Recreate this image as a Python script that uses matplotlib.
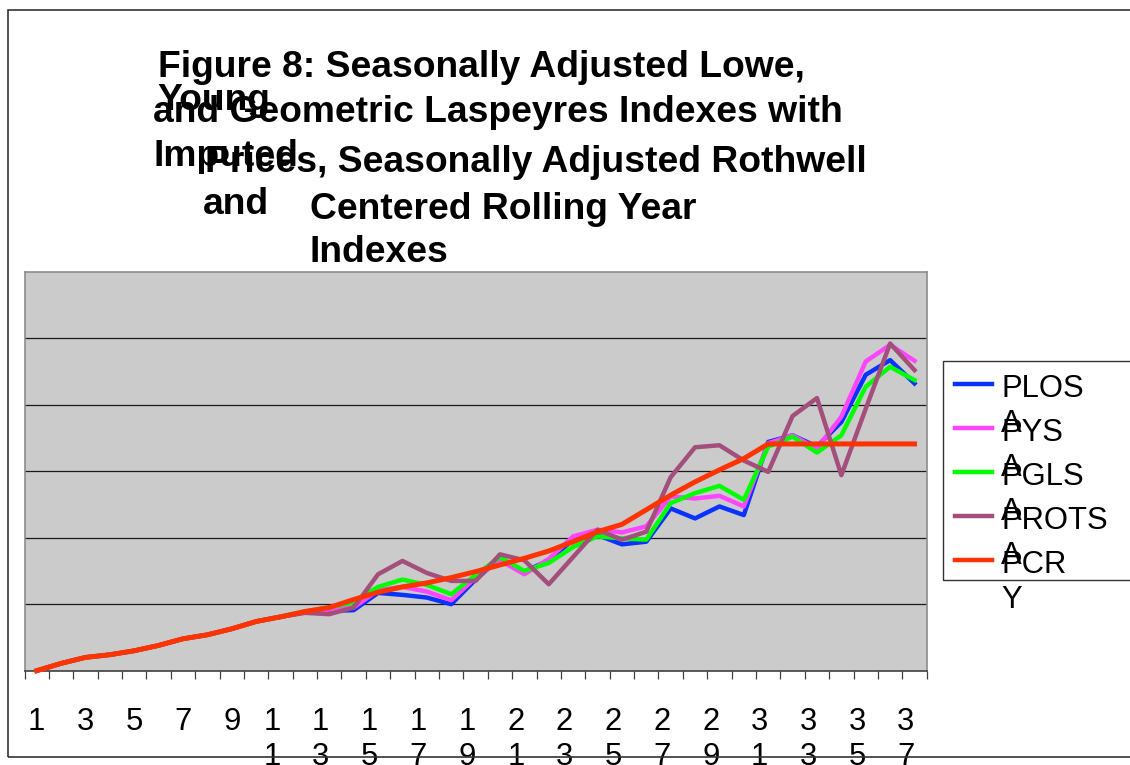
"""Seasonally adjusted Lowe / Young / Geometric Laspeyres vs Rothwell and CRY indexes."""

import matplotlib
matplotlib.use("Agg")
import matplotlib.pyplot as plt
import matplotlib.transforms as mtransforms
import numpy as np
from matplotlib import font_manager
from matplotlib.lines import Line2D
from matplotlib.patches import Rectangle

# ---- data -------------------------------------------------------------
periods = np.arange(1, 38)

common_start = [1.000, 1.011, 1.020, 1.024, 1.030, 1.038, 1.048, 1.054,
                1.063, 1.074, 1.081]

plosa = common_start + [
    1.088, 1.090, 1.091, 1.117, 1.114, 1.110, 1.100, 1.137, 1.169, 1.149,
    1.166, 1.197, 1.204, 1.190, 1.194, 1.244, 1.229, 1.247, 1.234, 1.344,
    1.354, 1.337, 1.374, 1.445, 1.467, 1.432]
pysa = common_start + [
    1.088, 1.092, 1.095, 1.121, 1.126, 1.119, 1.106, 1.140, 1.166, 1.145,
    1.168, 1.202, 1.212, 1.208, 1.217, 1.262, 1.259, 1.263, 1.247, 1.342,
    1.354, 1.334, 1.382, 1.465, 1.490, 1.466]
pglsa = common_start + [
    1.089, 1.095, 1.103, 1.126, 1.137, 1.129, 1.115, 1.144, 1.171, 1.150,
    1.162, 1.186, 1.202, 1.199, 1.197, 1.252, 1.267, 1.278, 1.257, 1.337,
    1.352, 1.328, 1.354, 1.427, 1.457, 1.437]
protsa = common_start + [
    1.087, 1.085, 1.095, 1.145, 1.165, 1.147, 1.135, 1.135, 1.175, 1.166,
    1.130, 1.171, 1.212, 1.197, 1.209, 1.291, 1.336, 1.339, 1.316, 1.299,
    1.383, 1.410, 1.294, 1.394, 1.492, 1.452]
pcry = common_start + [
    1.089, 1.095, 1.107, 1.118, 1.126, 1.132, 1.140, 1.149, 1.159, 1.169,
    1.180, 1.194, 1.209, 1.220, 1.242, 1.264, 1.284, 1.302, 1.319, 1.341,
    1.341, 1.341, 1.341, 1.341, 1.341, 1.341]

series_names = ["PLOSA", "PYSA", "PGLSA", "PROTSA", "PCRY"]
series_values = [plosa, pysa, pglsa, protsa, pcry]
series_colors = ["#0A32FF", "#FF45FF", "#00FF00", "#A34E7B", "#FF3300"]
series_widths = [3.2, 3.2, 3.2, 3.2, 3.6]

title_lines = [
    # (text, left px, baseline px)
    ("Figure 8: Seasonally Adjusted Lowe,", 158, 77),
    ("Young", 157, 110),
    ("and Geometric Laspeyres Indexes with", 153, 122),
    ("Imputed", 153, 166),
    ("Prices, Seasonally Adjusted Rothwell", 205, 172),
    ("and", 203, 214),
    ("Centered Rolling Year", 310, 219),
    ("Indexes", 310, 262),
]

# ---- figure set-up (pixel helpers) -------------------------------------
W, H, DPI = 1130, 765, 100
fig = plt.figure(figsize=(W / DPI, H / DPI), dpi=DPI)
fig.patch.set_facecolor("white")


def fx(px):
    return px / W


def fy(py):
    return 1 - py / H


try:
    font_manager.findfont(
        font_manager.FontProperties(family="Liberation Sans Narrow", weight="bold"),
        fallback_to_default=False)
    title_family, title_size = "Liberation Sans Narrow", 32.8
except ValueError:
    title_family, title_size = "Liberation Sans", 26.8

body_family = "Liberation Sans"
body_size = 22.3

# ---- plot area ---------------------------------------------------------
left, right, top, bottom = 24.5, 926.7, 271.7, 670.7
ax = fig.add_axes([fx(left), fy(bottom), fx(right) - fx(left), fy(top) - fy(bottom)])
ax.set_facecolor("#CBCBCB")
ax.set_xlim(0.5, 37.5)
ax.set_ylim(1.0, 1.6)

ax.set_yticks(np.arange(1.1, 1.55, 0.1))
ax.tick_params(axis="y", length=0, labelleft=False)
ax.yaxis.grid(True, color="#1a1a1a", linewidth=0.9)
ax.set_axisbelow(True)

ax.set_xticks(np.arange(0.5, 38, 1))
ax.tick_params(axis="x", direction="out", length=6, width=0.9,
               color="#404040", labelbottom=False)

for side in ("top", "right", "left"):
    ax.spines[side].set_color("#8c8c8c")
    ax.spines[side].set_linewidth(1.2)
ax.spines["bottom"].set_color("#404040")
ax.spines["bottom"].set_linewidth(1.2)

for vals, col, lw in zip(series_values, series_colors, series_widths):
    ax.plot(periods, vals, color=col, linewidth=lw, clip_on=False, zorder=3)

# category labels: every other period, two-digit labels wrap one digit per line
lab_trans = mtransforms.blended_transform_factory(ax.transData, fig.transFigure)
digit_shift = mtransforms.ScaledTranslation(-0.278 * body_size / 72, 0,
                                            fig.dpi_scale_trans)
for p in periods[::2]:
    s = str(p)
    if len(s) == 1:
        ax.text(p, fy(730), s, transform=lab_trans, ha="center",
                va="baseline", fontsize=body_size, family=body_family)
    else:
        for k, ch in enumerate(s):
            ax.text(p, fy(730 + 35 * k), ch, transform=lab_trans + digit_shift,
                    ha="center", va="baseline", fontsize=body_size,
                    family=body_family)

# ---- title -------------------------------------------------------------
for text, x0, base in title_lines:
    fig.text(fx(x0), fy(base), text, ha="left", va="baseline",
             fontsize=title_size, fontweight="bold", family=title_family)

# ---- legend (wrapped labels, box runs off the right edge) ----------------
fig.add_artist(Rectangle((fx(943), fy(580)), fx(1140) - fx(943), fy(361) - fy(580),
                         transform=fig.transFigure, facecolor="white",
                         edgecolor="#333333", linewidth=1.0))
for i, (name, col) in enumerate(zip(series_names, series_colors)):
    yc = 384.3 + 43.9 * i
    base = yc + 12.7
    fig.add_artist(Line2D([fx(955), fx(992)], [fy(yc), fy(yc)],
                          transform=fig.transFigure, color=col, linewidth=3.2))
    fig.text(fx(1001), fy(base), name[:-1], ha="left", va="baseline",
             fontsize=body_size, family=body_family)
    fig.text(fx(1001), fy(base + 35), name[-1], ha="left", va="baseline",
             fontsize=body_size, family=body_family)

# outer chart frame
fig.add_artist(Rectangle((fx(8), fy(757)), fx(1140) - fx(8), fy(10) - fy(757),
                         transform=fig.transFigure, fill=False,
                         edgecolor="#333333", linewidth=1.2, zorder=10))

fig.savefig("out.png", dpi=DPI)
